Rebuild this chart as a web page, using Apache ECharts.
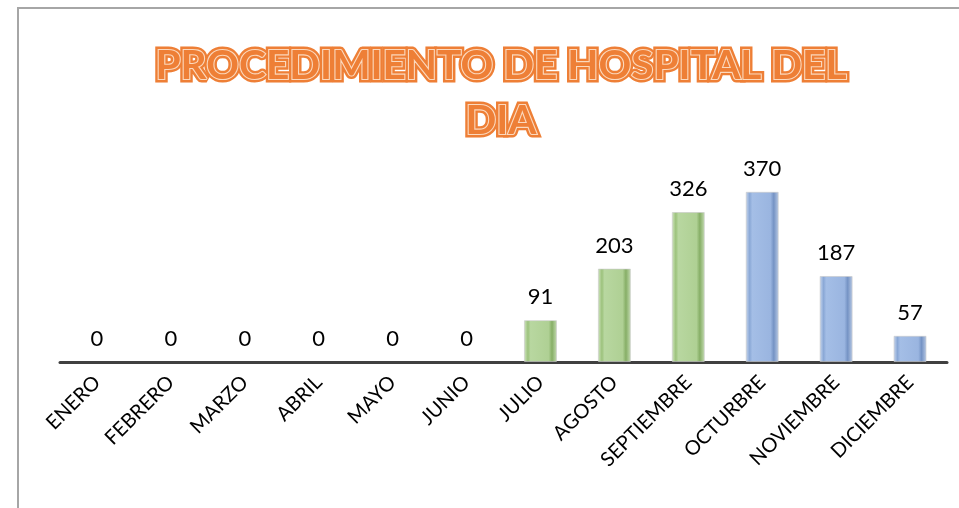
<!DOCTYPE html>
<html><head><meta charset="utf-8">
<script src="https://cdn.jsdelivr.net/npm/echarts@6/dist/echarts.min.js"></script>
<style>html,body{margin:0;padding:0;background:#fff}#c{width:959px;height:508px}</style>
</head><body><div id="c"></div>
<script>
const categories = ['ENERO','FEBRERO','MARZO','ABRIL','MAYO','JUNIO','JULIO','AGOSTO','SEPTIEMBRE','OCTURBRE','NOVIEMBRE','DICIEMBRE'];
const values = [0,0,0,0,0,0,91,203,326,370,187,57];
const barGroup = ['none','none','none','none','none','none','green','green','green','blue','blue','blue'];
const titleText = 'PROCEDIMIENTO DE HOSPITAL DEL\nDIA';

const grad = {
  green: {type:'linear',x:0,y:0,x2:1,y2:0,colorStops:[
    {offset:0,color:'#D3E6C4'},{offset:0.12,color:'#9CC27C'},{offset:0.2,color:'#B8D7A0'},
    {offset:0.75,color:'#AFD094'},{offset:0.85,color:'#86AE66'},{offset:1,color:'#C6DDB4'}]},
  blue: {type:'linear',x:0,y:0,x2:1,y2:0,colorStops:[
    {offset:0,color:'#CAD8EE'},{offset:0.12,color:'#8AA8D6'},{offset:0.2,color:'#A4BEE6'},
    {offset:0.75,color:'#9AB5E0'},{offset:0.85,color:'#7593C4'},{offset:1,color:'#BACBE6'}]},
  none: '#fff'
};

const chart = echarts.init(document.getElementById('c'));
const titleFont = {fontFamily:'Lato',fontWeight:'bold',fontSize:40.6,lineHeight:55,color:'#EE7F36',align:'center'};
chart.setOption({
  animation:false,
  title:[
    {text:titleText,left:496,top:33,textAlign:'center',textStyle:Object.assign({},titleFont,{textBorderColor:'#EE7F36',textBorderWidth:7})},
    {text:titleText,left:496,top:33,textAlign:'center',textStyle:Object.assign({},titleFont,{textBorderColor:'#FBD9BE',textBorderWidth:2.2})}
  ],
  graphic:[
    {type:'line',shape:{x1:17,y1:8,x2:959,y2:8},style:{stroke:'#A6A6A6',lineWidth:2}},
    {type:'line',shape:{x1:18,y1:7,x2:18,y2:508},style:{stroke:'#A6A6A6',lineWidth:2}}
  ],
  grid:{left:60,right:12,top:178,bottom:146,containLabel:false},
  xAxis:{type:'category',data:categories,
    axisLine:{lineStyle:{color:'#404040',width:3}},axisTick:{show:false},
    axisLabel:{rotate:45,interval:0,fontFamily:'Lato',fontSize:20,color:'#000',margin:17}},
  yAxis:{type:'value',min:0,max:400,show:false,splitLine:{show:false}},
  series:[{type:'bar',barWidth:33,
    data:values.map((v,i)=>({value:v,itemStyle:{color:grad[barGroup[i]],borderColor:'rgba(200,200,200,0.6)',borderWidth:v>0?1:0}})),
    label:{show:true,position:'top',distance:12,fontFamily:'Lato',fontSize:22,color:'#000'}
  }]
});
</script></body></html>
